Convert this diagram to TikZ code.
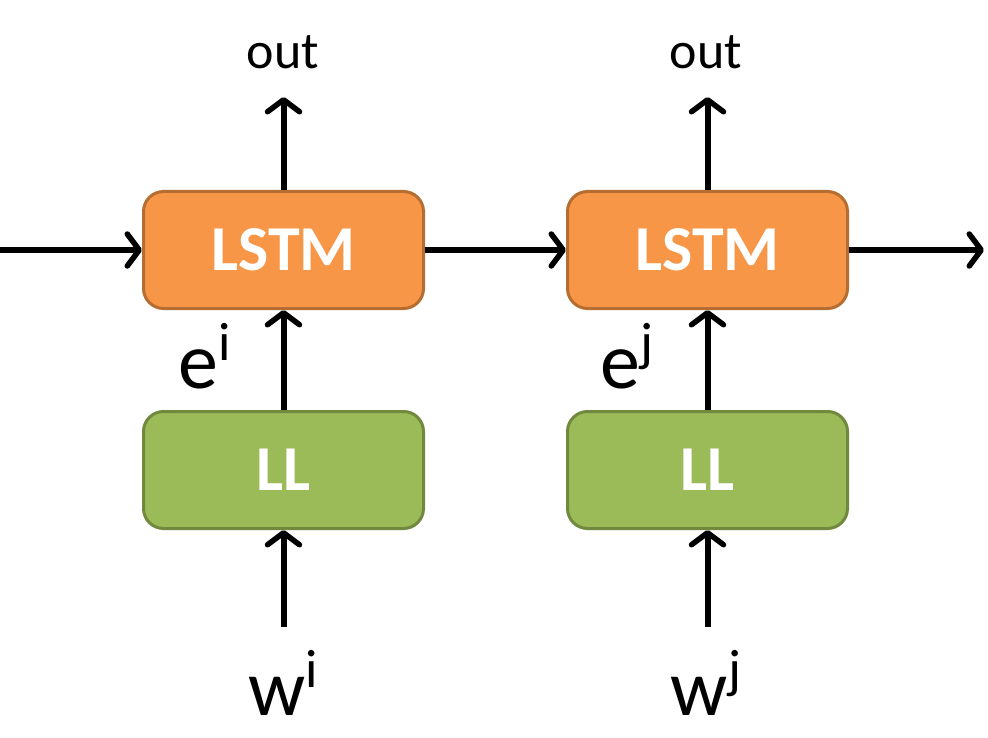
\documentclass[tikz,border=0pt]{standalone}
\usepackage{fontspec}
\setmainfont{Carlito}
\usetikzlibrary{arrows.meta}
\definecolor{orfill}{HTML}{F79646}
\definecolor{ordraw}{HTML}{B66D31}
\definecolor{grfill}{HTML}{9BBB59}
\definecolor{grdraw}{HTML}{71893F}
\tikzset{
  box/.style={rounded corners=20pt, line width=3pt, minimum width=280pt, minimum height=117pt,
    inner sep=0pt, text=white, font=\fontsize{64}{64}\selectfont\bfseries},
  lstmbox/.style={box, fill=orfill, draw=ordraw},
  llbox/.style={box, fill=grfill, draw=grdraw},
  conn/.style={line width=6pt, -{Straight Barb[length=12pt,width=32pt,line width=5.5pt,line cap=round,line join=round]}},
  lbl/.style={anchor=base, inner sep=0pt, text=black},
}
\newcommand{\sups}[1]{\raisebox{0.35em}{\fontsize{54}{54}\selectfont #1}}
\begin{document}
\begin{tikzpicture}[x=1pt,y=1pt]
\useasboundingbox (0,0) rectangle (988,-738);
\node[lstmbox] (lstm1) at (283.5,-250) {LSTM};
\node[lstmbox] (lstm2) at (707.5,-250) {LSTM};
\node[llbox] (ll1) at (283.5,-470) {LL};
\node[llbox] (ll2) at (707.5,-470) {LL};
\node[lbl, font=\fontsize{52}{52}\selectfont] (out1) at (283,-69) {out};
\node[lbl, font=\fontsize{52}{52}\selectfont] (out2) at (706,-69) {out};
\node[lbl, font=\fontsize{80}{80}\selectfont] (e1) at (205,-388) {e\sups{i}};
\node[lbl, font=\fontsize{80}{80}\selectfont] (e2) at (627,-388) {e\sups{j}};
\node[lbl, font=\fontsize{80}{80}\selectfont] (w1) at (283,-715) {w\sups{i}};
\node[lbl, font=\fontsize{80}{80}\selectfont] (w2) at (706,-715) {w\sups{j}};
\coordinate (inL) at (0,-250);
\coordinate (outR) at (984,-250);
\coordinate (o1) at (283.5,-97);
\coordinate (o2) at (707.5,-97);
\coordinate (s1) at (283.5,-627);
\coordinate (s2) at (707.5,-627);
\draw[conn] (inL) -- (lstm1.west);
\draw[conn] (lstm1.east) -- (lstm2.west);
\draw[conn] (lstm2.east) -- (outR);
\draw[conn] (lstm1.north) -- (o1);
\draw[conn] (lstm2.north) -- (o2);
\draw[conn] (ll1.north) -- (lstm1.south);
\draw[conn] (ll2.north) -- (lstm2.south);
\draw[conn] (s1) -- (ll1.south);
\draw[conn] (s2) -- (ll2.south);
\end{tikzpicture}
\end{document}
